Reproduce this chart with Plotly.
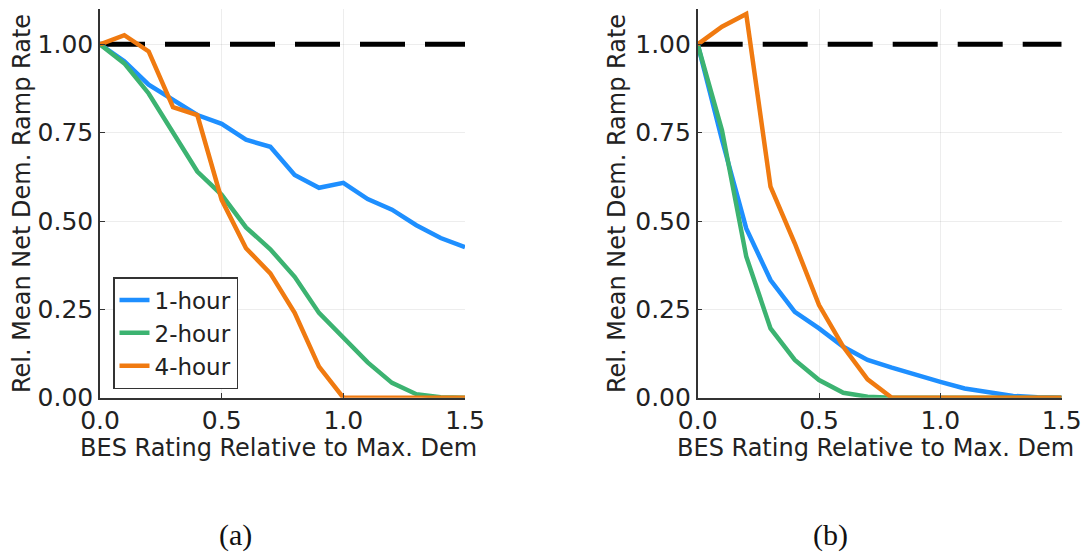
import plotly.graph_objects as go

x = [0.0, 0.1, 0.2, 0.3, 0.4, 0.5, 0.6, 0.7, 0.8, 0.9, 1.0, 1.1, 1.2, 1.3, 1.4, 1.5]

# Panel (a)
a_1h = [1.0, 0.952, 0.886, 0.843, 0.800, 0.775, 0.730, 0.710, 0.630, 0.594, 0.608, 0.562, 0.532, 0.488, 0.452, 0.426]
a_2h = [1.0, 0.946, 0.861, 0.753, 0.640, 0.574, 0.482, 0.420, 0.342, 0.240, 0.168, 0.100, 0.042, 0.010, 0.001, 0.0]
a_4h = [1.0, 1.026, 0.980, 0.822, 0.800, 0.560, 0.423, 0.352, 0.240, 0.088, 0.0, 0.0, 0.0, 0.0, 0.0, 0.0]

# Panel (b)
b_1h = [1.0, 0.730, 0.479, 0.333, 0.243, 0.196, 0.144, 0.107, 0.085, 0.064, 0.045, 0.026, 0.014, 0.005, 0.001, 0.0]
b_2h = [1.0, 0.757, 0.400, 0.196, 0.107, 0.050, 0.014, 0.003, 0.0, 0.0, 0.0, 0.0, 0.0, 0.0, 0.0, 0.0]
b_4h = [1.0, 1.050, 1.086, 0.597, 0.437, 0.262, 0.144, 0.052, 0.0, 0.0, 0.0, 0.0, 0.0, 0.0, 0.0, 0.0]

ref_x = [0.0, 1.5]
ref_y = [1.0, 1.0]

names = ["1-hour", "2-hour", "4-hour"]
colors = ["#1E8FFF", "#3CB371", "#F07A10"]

xticks = [0.0, 0.5, 1.0, 1.5]
xticktext = ["0.0", "0.5", "1.0", "1.5"]
yticks = [0.0, 0.25, 0.5, 0.75, 1.0]
yticktext = ["0.00", "0.25", "0.50", "0.75", "1.00"]

xtitle = "BES Rating Relative to Max. Dem"
ytitle = "Rel. Mean Net Dem. Ramp Rate"
captions = ["(a)", "(b)"]

W, H = 1084, 553
FONT = "DejaVu Sans"

fig = go.Figure()

panels = [(a_1h, a_2h, a_4h), (b_1h, b_2h, b_4h)]
axes = [("x", "y"), ("x2", "y2")]
for pi, (series, (xa, ya)) in enumerate(zip(panels, axes)):
    fig.add_trace(go.Scatter(x=ref_x, y=ref_y, mode="lines", xaxis=xa, yaxis=ya,
                             line=dict(color="black", width=5, dash="45px,20px"),
                             showlegend=False, hoverinfo="skip"))
    for s, n, c in zip(series, names, colors):
        fig.add_trace(go.Scatter(x=x, y=s, mode="lines", name=n, xaxis=xa, yaxis=ya,
                                 line=dict(color=c, width=4.5),
                                 showlegend=(pi == 0)))

# pixel geometry
ax_l = [100, 697.7]
ax_r = [465, 1061.7]
ax_top, ax_bot = 9, 397.7

def px2fx(p):
    return p / W

def px2fy(p):
    return 1 - p / H

common_x = dict(range=[0, 1.5], tickvals=xticks, ticktext=xticktext,
                showgrid=True, gridcolor="rgba(0,0,0,0.07)", gridwidth=1,
                zeroline=False, showline=True, linecolor="#333333", linewidth=1.5,
                ticks="inside", ticklen=5, tickcolor="#333333",
                tickfont=dict(family=FONT, size=25, color="#222222"),
                automargin=False, fixedrange=True)
common_y = dict(range=[0, 1.1], tickvals=yticks, ticktext=yticktext,
                showgrid=True, gridcolor="rgba(0,0,0,0.07)", gridwidth=1,
                zeroline=False, showline=True, linecolor="#333333", linewidth=1.5,
                ticks="inside", ticklen=5, tickcolor="#333333",
                tickfont=dict(family=FONT, size=25, color="#222222"),
                automargin=False, fixedrange=True)

fig.update_layout(
    width=W, height=H,
    margin=dict(l=0, r=0, t=0, b=0),
    paper_bgcolor="white", plot_bgcolor="white",
    xaxis=dict(domain=[px2fx(ax_l[0]), px2fx(ax_r[0])], anchor="y", **common_x),
    yaxis=dict(domain=[px2fy(ax_bot), px2fy(ax_top)], anchor="x", **common_y),
    xaxis2=dict(domain=[px2fx(ax_l[1]), px2fx(ax_r[1])], anchor="y2", **common_x),
    yaxis2=dict(domain=[px2fy(ax_bot), px2fy(ax_top)], anchor="x2", **common_y),
    legend=dict(x=px2fx(113), y=px2fy(277), xanchor="left", yanchor="top",
                bgcolor="white", bordercolor="#333333", borderwidth=1.5,
                font=dict(family=FONT, size=23, color="#222222"),
                itemwidth=30, tracegroupgap=0),
    showlegend=True,
)

annotations = []
xt_centers = [278.5, 875]
yt_centers = [22, 617]
cap_centers = [235, 830]
for i in range(2):
    annotations.append(dict(text=xtitle, x=px2fx(xt_centers[i]), y=px2fy(448), xref="paper", yref="paper",
                            xanchor="center", yanchor="middle", showarrow=False,
                            font=dict(family=FONT, size=24, color="#222222")))
    annotations.append(dict(text=ytitle, x=px2fx(yt_centers[i]), y=px2fy(204), xref="paper", yref="paper",
                            xanchor="center", yanchor="middle", showarrow=False, textangle=-90,
                            font=dict(family=FONT, size=24, color="#222222")))
    annotations.append(dict(text=captions[i], x=px2fx(cap_centers[i]), y=px2fy(535), xref="paper", yref="paper",
                            xanchor="center", yanchor="middle", showarrow=False,
                            font=dict(family="Liberation Serif", size=30, color="#111111")))
fig.update_layout(annotations=annotations)

fig.write_html("out.html")
